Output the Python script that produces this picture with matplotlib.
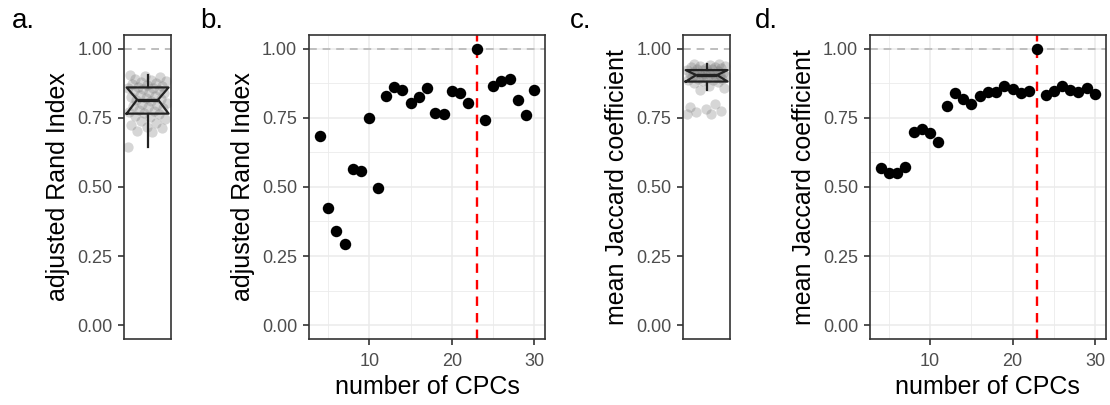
import matplotlib.pyplot as plt
import numpy as np

plt.rcParams["font.family"] = ["Liberation Sans", "DejaVu Sans"]

# number of CPCs (x) for panels b and d
n_cpcs = list(range(4, 31))
ari = [0.685, 0.424, 0.342, 0.294, 0.564, 0.558, 0.751, 0.495, 0.830, 0.860,
       0.852, 0.804, 0.826, 0.856, 0.768, 0.765, 0.846, 0.840, 0.804, 1.000,
       0.741, 0.864, 0.882, 0.890, 0.816, 0.761, 0.852]
jaccard = [0.569, 0.552, 0.552, 0.573, 0.697, 0.708, 0.696, 0.663, 0.792, 0.840,
           0.819, 0.800, 0.830, 0.843, 0.843, 0.864, 0.855, 0.838, 0.846, 1.000,
           0.834, 0.848, 0.864, 0.851, 0.842, 0.856, 0.836]
chosen_k = 23

ari_boot = [0.643, 0.700, 0.703, 0.712, 0.718, 0.725, 0.731, 0.738, 0.745, 0.752,
            0.758, 0.762, 0.766, 0.770, 0.775, 0.779, 0.784, 0.788, 0.792, 0.796,
            0.800, 0.805, 0.809, 0.813, 0.818, 0.822, 0.826, 0.830, 0.834, 0.838,
            0.842, 0.846, 0.850, 0.853, 0.856, 0.859, 0.862, 0.865, 0.868, 0.872,
            0.876, 0.880, 0.884, 0.888, 0.892, 0.896, 0.900, 0.904]
jac_boot = [0.762, 0.765, 0.770, 0.775, 0.782, 0.790, 0.800, 0.850, 0.858, 0.866,
            0.874, 0.880, 0.884, 0.886, 0.888, 0.890, 0.892, 0.894, 0.896, 0.898,
            0.900, 0.902, 0.904, 0.905, 0.906, 0.907, 0.908, 0.909, 0.911, 0.913,
            0.915, 0.917, 0.919, 0.921, 0.923, 0.925, 0.927, 0.929, 0.931, 0.933,
            0.935, 0.937, 0.939, 0.941, 0.943, 0.946]

y_ticks = [0.0, 0.25, 0.5, 0.75, 1.0]
y_ticklabels = ["0.00", "0.25", "0.50", "0.75", "1.00"]
x_ticks = [10, 20, 30]

BORDER = "#333333"
TICKLAB = "#4D4D4D"
GRID = "#EBEBEB"
TICK_FS = 13
TITLE_FS = 18


def style_axes(ax):
    for s in ax.spines.values():
        s.set_color(BORDER)
        s.set_linewidth(1.2)
    ax.set_ylim(-0.05, 1.05)
    ax.set_yticks(y_ticks)
    ax.set_yticklabels(y_ticklabels)
    ax.tick_params(axis="both", colors=BORDER, labelcolor=TICKLAB, labelsize=TICK_FS,
                   length=4, width=1.2)
    ax.tick_params(axis="y", pad=4.5)
    ax.tick_params(axis="x", pad=6)
    ax.axhline(1.0, color="#BEBEBE", lw=1.4, ls=(0, (4, 3)), zorder=1)


def box_panel(ax, vals, ylabel):
    style_axes(ax)
    vals = np.asarray(vals)
    q1, q3 = np.percentile(vals, [25, 75])
    # deterministic spread of the points across the box width
    offs = ((np.arange(len(vals)) * 0.618034) % 1.0 - 0.5) * 0.85
    ax.scatter(1 + offs, vals, s=55, color="#6E6E6E", alpha=0.28, lw=0, zorder=2)
    ax.boxplot([vals], positions=[1], widths=0.9, notch=True,
               conf_intervals=[[q1, q3]], showfliers=False, patch_artist=False,
               boxprops=dict(color="#222222", lw=1.6),
               whiskerprops=dict(color="#222222", lw=1.6),
               capprops=dict(lw=0),
               medianprops=dict(color="#222222", lw=2.4),
               zorder=3)
    ax.set_xlim(0.5, 1.5)
    ax.set_xticks([])
    ax.set_ylabel(ylabel, fontsize=TITLE_FS, labelpad=5)


def scatter_panel(ax, x, y, ylabel):
    ax.set_xlim(2.7, 31.3)
    ax.set_xticks(x_ticks)
    ax.set_xticks([5, 15, 25], minor=True)
    ax.set_yticks([0.125, 0.375, 0.625, 0.875], minor=True)
    style_axes(ax)
    ax.tick_params(which="minor", length=0)
    ax.grid(which="major", color=GRID, lw=1.1, zorder=0)
    ax.grid(which="minor", color=GRID, lw=0.6, zorder=0)
    ax.set_axisbelow(True)
    ax.axvline(chosen_k, color="red", lw=1.7, ls=(0, (4, 3)), zorder=2)
    ax.scatter(x, y, s=68, color="black", lw=0, zorder=3)
    ax.set_xlabel("number of CPCs", fontsize=TITLE_FS, labelpad=4)
    ax.set_ylabel(ylabel, fontsize=TITLE_FS, labelpad=5)


fig = plt.figure(figsize=(11.1, 4.05), dpi=100)
ax_a = fig.add_axes([0.112, 0.163, 0.042, 0.751])
ax_b = fig.add_axes([0.2784, 0.163, 0.2126, 0.751])
ax_c = fig.add_axes([0.6156, 0.163, 0.042, 0.751])
ax_d = fig.add_axes([0.7838, 0.163, 0.2123, 0.751])

box_panel(ax_a, ari_boot, "adjusted Rand Index")
scatter_panel(ax_b, n_cpcs, ari, "adjusted Rand Index")
box_panel(ax_c, jac_boot, "mean Jaccard coefficient")
scatter_panel(ax_d, n_cpcs, jaccard, "mean Jaccard coefficient")

for lab, xpos in [("a.", 0.011), ("b.", 0.180), ("c.", 0.513), ("d.", 0.680)]:
    fig.text(xpos, 0.915, lab, fontsize=20, color="black", va="bottom")

fig.savefig("out.png", dpi=100)
